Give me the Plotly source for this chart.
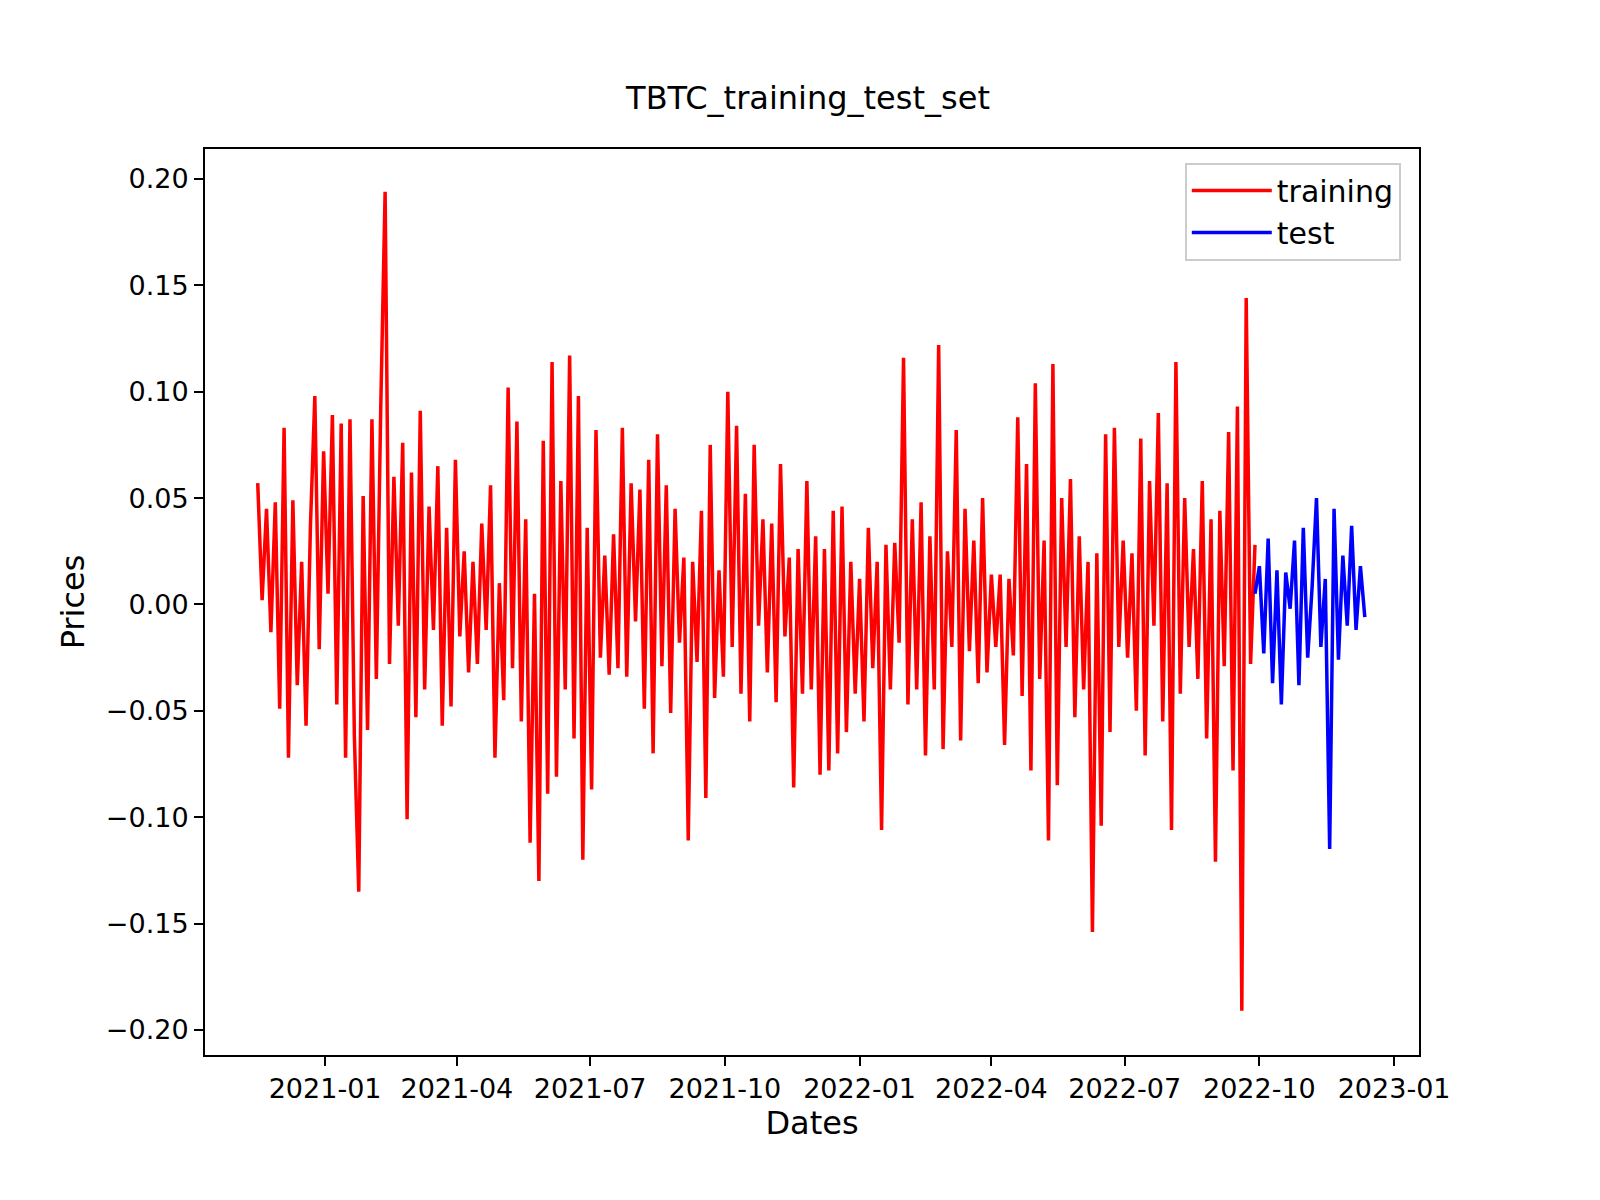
import pandas as pd
import plotly.graph_objects as go

train_start = "2020-11-16"
test_start = "2022-09-28"
step = "3D"

training = [
    0.057, 0.002, 0.045, -0.013, 0.048, -0.049, 0.083, -0.072, 0.049, -0.038,
    0.020, -0.057, 0.037, 0.098, -0.021, 0.072, 0.005, 0.089, -0.047, 0.085,
    -0.072, 0.087, -0.062, -0.135, 0.051, -0.059, 0.087, -0.035, 0.092, 0.194,
    -0.028, 0.060, -0.010, 0.076, -0.101, 0.062, -0.053, 0.091, -0.040, 0.046,
    -0.012, 0.065, -0.057, 0.036, -0.048, 0.068, -0.015, 0.025, -0.032, 0.020,
    -0.028, 0.038, -0.012, 0.056, -0.072, 0.010, -0.045, 0.102, -0.030, 0.086,
    -0.055, 0.040, -0.112, 0.005, -0.130, 0.077, -0.089, 0.114, -0.081, 0.058,
    -0.040, 0.117, -0.063, 0.098, -0.120, 0.036, -0.087, 0.082, -0.025, 0.023,
    -0.033, 0.033, -0.030, 0.083, -0.034, 0.057, -0.008, 0.054, -0.049, 0.068,
    -0.070, 0.080, -0.029, 0.056, -0.051, 0.045, -0.018, 0.022, -0.111, 0.020,
    -0.027, 0.044, -0.091, 0.075, -0.044, 0.016, -0.034, 0.100, -0.020, 0.084,
    -0.042, 0.052, -0.055, 0.075, -0.010, 0.040, -0.032, 0.038, -0.046, 0.066,
    -0.015, 0.022, -0.086, 0.026, -0.042, 0.058, -0.040, 0.032, -0.080, 0.026,
    -0.078, 0.044, -0.070, 0.046, -0.060, 0.020, -0.042, 0.012, -0.055, 0.036,
    -0.030, 0.020, -0.106, 0.028, -0.040, 0.029, -0.018, 0.116, -0.047, 0.040,
    -0.040, 0.048, -0.071, 0.032, -0.040, 0.122, -0.068, 0.025, -0.020, 0.082,
    -0.064, 0.045, -0.022, 0.030, -0.037, 0.050, -0.032, 0.014, -0.020, 0.014,
    -0.066, 0.012, -0.024, 0.088, -0.043, 0.066, -0.078, 0.104, -0.035, 0.030,
    -0.111, 0.113, -0.085, 0.050, -0.020, 0.059, -0.053, 0.032, -0.040, 0.020,
    -0.154, 0.024, -0.104, 0.080, -0.060, 0.083, -0.020, 0.030, -0.025, 0.024,
    -0.050, 0.078, -0.071, 0.058, -0.010, 0.090, -0.055, 0.057, -0.106, 0.114,
    -0.042, 0.050, -0.020, 0.026, -0.035, 0.058, -0.063, 0.040, -0.121, 0.044,
    -0.029, 0.081, -0.078, 0.093, -0.191, 0.144, -0.028, 0.028,
]

test = [
    0.005, 0.018, -0.023, 0.031, -0.037, 0.016, -0.047, 0.015, -0.002, 0.030,
    -0.038, 0.036, -0.025, 0.008, 0.050, -0.020, 0.012, -0.115, 0.045, -0.026,
    0.023, -0.010, 0.037, -0.012, 0.018, -0.006,
]

x_ticks = ["2021-01-01", "2021-04-01", "2021-07-01", "2021-10-01", "2022-01-01",
           "2022-04-01", "2022-07-01", "2022-10-01", "2023-01-01"]
x_labels = ["2021-01", "2021-04", "2021-07", "2021-10", "2022-01",
            "2022-04", "2022-07", "2022-10", "2023-01"]
y_ticks = [-0.20, -0.15, -0.10, -0.05, 0.00, 0.05, 0.10, 0.15, 0.20]
y_labels = [("\u2212" if v < 0 else "") + "%.2f" % abs(v) for v in y_ticks]

train_dates = pd.date_range(train_start, periods=len(training), freq=step)
test_dates = pd.date_range(test_start, periods=len(test), freq=step)

fig = go.Figure()
fig.add_trace(go.Scatter(x=train_dates, y=training, mode="lines", name="training",
                         line=dict(color="red", width=3.5)))
fig.add_trace(go.Scatter(x=test_dates, y=test, mode="lines", name="test",
                         line=dict(color="blue", width=3.5)))

axis_common = dict(showgrid=False, zeroline=False, showline=True, mirror=True,
                   linecolor="black", linewidth=2, ticks="outside", ticklen=9,
                   tickwidth=2, tickcolor="black")

fig.update_layout(
    width=1600, height=1200,
    paper_bgcolor="white", plot_bgcolor="white",
    font=dict(family="DejaVu Sans", size=27, color="black"),
    title=dict(text="TBTC_training_test_set", x=0.5, xanchor="center",
               y=0.925, yanchor="middle", font=dict(size=32)),
    margin=dict(l=197, r=189, t=141, b=153),
    showlegend=True,
    legend=dict(x=0.985, y=0.985, xanchor="right", yanchor="top",
                bordercolor="#cccccc", borderwidth=2, bgcolor="white",
                itemwidth=80, font=dict(size=30), tracegroupgap=10),
    xaxis=dict(axis_common, title=dict(text="Dates", standoff=4),
               range=["2020-10-11", "2023-01-18"],
               tickvals=x_ticks, ticktext=x_labels),
    yaxis=dict(axis_common, title=dict(text="Prices", standoff=12),
               range=[-0.2118, 0.2141], tickvals=y_ticks, ticktext=y_labels),
)

fig.write_html("out.html")
